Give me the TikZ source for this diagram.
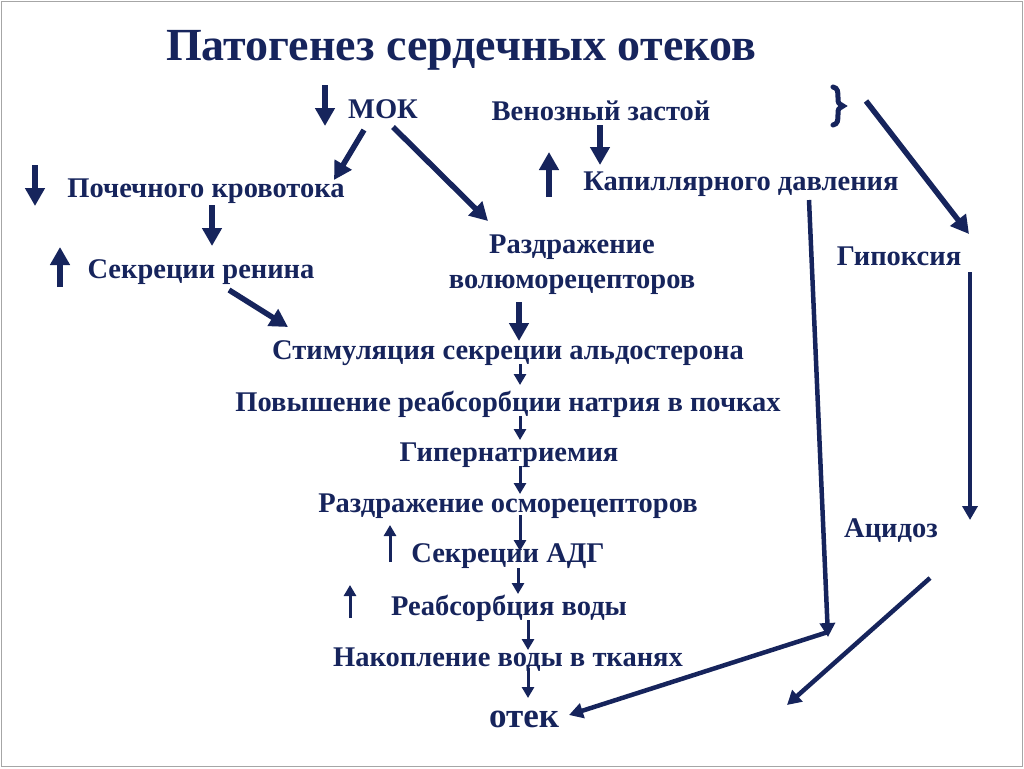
\documentclass[tikz,border=0pt]{standalone}
\usepackage{fontspec}
\setmainfont{Liberation Serif}
\usetikzlibrary{arrows.meta,calc}
\definecolor{navy}{RGB}{22,36,92}
\tikzset{
  lbl/.style={text=navy,font=\fontsize{28.5}{30}\selectfont\bfseries,inner sep=0pt,anchor=center},
  big/.style={draw=navy,line width=5.5pt,-{Triangle[length=18pt,width=19pt]}},
  small/.style={draw=navy,line width=3pt,-{Triangle[length=11pt,width=12pt]}},
  thin/.style={draw=navy,line width=4.5pt,-{Triangle[length=14pt,width=15pt]}},
}
\begin{document}
\begin{tikzpicture}[x=1pt,y=-1pt]
\useasboundingbox (0,0) rectangle (1024,768);
\draw[gray!70,line width=1.5pt] (1.5,1.5) rectangle (1022.5,766.5);
\node[lbl,font=\fontsize{46}{48}\selectfont\bfseries] (title) at (461,50) {Патогенез сердечных отеков};
\node[lbl] (mok) at (383,109) {МОК};
\node[lbl] (ven) at (601,111) {Венозный застой};
\node[lbl] (kap) at (741,184) {Капиллярного давления};
\node[lbl] (poch) at (206,191) {Почечного кровотока};
\node[lbl] (ren) at (201,272) {Секреции ренина};
\node[lbl,align=center] (razd) at (572,265) {Раздражение\\[5pt]волюморецепторов};
\node[lbl] (stim) at (508,353) {Стимуляция секреции альдостерона};
\node[lbl] (pov) at (508,404) {Повышение реабсорбции натрия в почках};
\node[lbl] (gip) at (509,455) {Гипернатриемия};
\node[lbl] (osm) at (508,506) {Раздражение осморецепторов};
\node[lbl] (adg) at (508,556) {Секреции АДГ};
\node[lbl] (reab) at (509,608) {Реабсорбция воды};
\node[lbl] (nak) at (508,660) {Накопление воды в тканях};
\node[lbl,font=\fontsize{35}{36}\selectfont\bfseries] (otek) at (524,719) {отек};
\node[lbl] (hyp) at (899,256) {Гипоксия};
\node[lbl] (acid) at (891,531) {Ацидоз};
\coordinate (brace) at (838,106);
\draw[navy,line width=5pt,line cap=round]
  ($(brace)+(-5,-19)$) .. controls ($(brace)+(0,-18)$) and ($(brace)+(0,-14)$) .. ($(brace)+(0,-8)$)
  .. controls ($(brace)+(0,-3)$) .. ($(brace)+(5,0)$)
  .. controls ($(brace)+(0,3)$) .. ($(brace)+(0,8)$)
  .. controls ($(brace)+(0,14)$) and ($(brace)+(0,18)$) .. ($(brace)+(-5,19)$);
% indicator arrows
\draw[big] (325,85) -- (325,126);
\draw[big] (35,165) -- (35,206);
\draw[big] (60,287) -- (60,247);
\draw[big] (600,125) -- (600,165);
\draw[big] (549,197) -- (549,152);
\draw[small] (390,562) -- (390,525);
\draw[small] (350,618) -- (350,585);
% connectors
\coordinate (mokL) at (364,130);
\coordinate (pochT) at (334,180);
\coordinate (mokR) at (393,127);
\coordinate (razdT) at (488,221);
\draw[big] (mokL) -- (pochT);
\draw[big] (mokR) -- (razdT);
\draw[big] (212,205) -- (212,246);
\coordinate (renR) at (229,290);
\coordinate (stimT) at (288,327);
\draw[big] (renR) -- (stimT);
\draw[big] (519,302) -- (519,341);
\draw[small] (520,364) -- (520,385);
\draw[small] (520,416) -- (520,440);
\draw[small] (520,466) -- (520,494);
\draw[small] (520,515) -- (520,551);
\draw[small] (518,568) -- (518,594);
\draw[small] (528,620) -- (528,650);
\draw[small] (528,668) -- (528,698);
\coordinate (braceR) at (866,101);
\coordinate (hypT) at (969,234);
\draw[big] (braceR) -- (hypT);
\coordinate (hypB) at (970,272);
\coordinate (acidR) at (970,520);
\draw[thin] (hypB) -- (acidR);
\coordinate (kapB) at (809,200);
\coordinate (kapEnd) at (828,637);
\draw[thin] (kapB) -- (kapEnd);
\coordinate (kapE2) at (828,632);
\coordinate (otekR) at (569,715);
\draw[thin] (kapE2) -- (otekR);
\coordinate (acidB) at (930,578);
\coordinate (acidEnd) at (787,705);
\draw[thin] (acidB) -- (acidEnd);
\end{tikzpicture}
\end{document}
